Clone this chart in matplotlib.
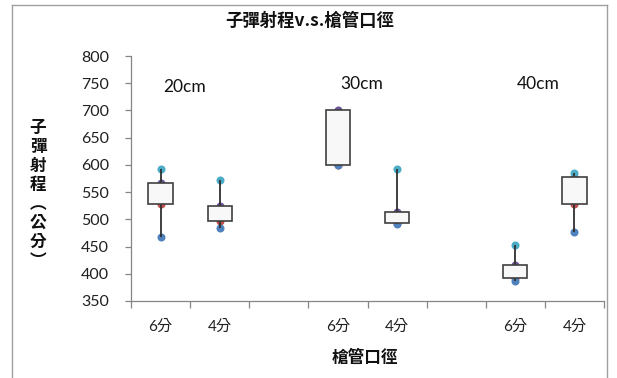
import matplotlib
matplotlib.use("Agg")
import matplotlib.pyplot as plt
import matplotlib.transforms as mtrans
from matplotlib.patches import Rectangle
from matplotlib.lines import Line2D

categories = ["6分", "4分", "", "6分", "4分", "", "6分", "4分"]
group_labels = ["20cm", "30cm", "40cm"]
# values for the six occupied categories (positions 0,1,3,4,6,7)
data_pos = [0, 1, 3, 4, 6, 7]
blue = [468, 485, 600, 492, 387, 477]
red = [529, 497, 600, 494, 392, 528]
purple = [566, 524, 700, 514, 416, 578]
cyan = [592, 573, 650, 592, 453, 585]
yticks = [350, 400, 450, 500, 550, 600, 650, 700, 750, 800]

CJK = "Noto Sans CJK TC"
LAT = ["Lato", CJK]

fig = plt.figure(figsize=(6.17, 3.78), dpi=100)
W, H = 617, 378
L, R, T, B = 131, 604, 56, 301
ax = fig.add_axes([L / W, 1 - B / H, (R - L) / W, (B - T) / H])

n = len(categories)
ax.set_xlim(-0.5, n - 0.5)
ax.set_ylim(350, 800)

gray = "#868686"
for s in ["top", "right"]:
    ax.spines[s].set_visible(False)
for s in ["left", "bottom"]:
    ax.spines[s].set_color(gray)
    ax.spines[s].set_linewidth(0.9)

ax.set_yticks(yticks)
ax.set_yticklabels([str(v) for v in yticks], family=LAT, fontsize=11.5, color="#202020")
ax.tick_params(axis="y", length=4, width=0.9, color=gray, pad=12)

# category boundaries as ticks, labels at centers
ax.set_xticks([i - 0.5 for i in range(n + 1)])
ax.set_xticklabels([""] * (n + 1))
ax.tick_params(axis="x", length=5, width=0.9, color=gray)
off = mtrans.offset_copy(ax.transData, fig=fig, x=0, y=-19, units="dots")
for i, c in enumerate(categories):
    ax.text(i, 350, c, transform=off, ha="center", va="top",
            family=LAT, fontsize=11, color="#202020")

colors = {"blue": "#4F81BD", "red": "#C0504D", "purple": "#6F569B", "cyan": "#4BACC6"}
ms = 5.8
box_w = 0.41
for k, x in enumerate(data_pos):
    vals = [blue[k], red[k], purple[k], cyan[k]]
    lo, hi = min(vals), max(vals)
    ax.plot([x, x], [lo, hi], color="#303030", lw=1.3, zorder=4.5, solid_capstyle="butt")
    ax.plot(x, red[k], "o", color=colors["red"], ms=ms, mec="none", zorder=2)
    ax.plot(x, blue[k], "o", color=colors["blue"], ms=ms, mec="none", zorder=3)
    ax.plot(x, purple[k], "o", color=colors["purple"], ms=ms, mec="none", zorder=3.5)
    ax.plot(x, cyan[k], "o", color=colors["cyan"], ms=ms, mec="none", zorder=4)
    b0, b1 = sorted([red[k], purple[k]])
    ax.add_patch(Rectangle((x - box_w / 2, b0), box_w, b1 - b0, facecolor="#F8F8F8",
                           edgecolor="#404040", lw=1.2, zorder=5))

# group labels
for g, (lab, px, py) in enumerate(zip(group_labels, [185, 362, 538], [87, 84, 84])):
    fig.text(px / W, 1 - py / H, lab, ha="center", va="center", family=LAT, fontsize=12.5, color="#111111")

# title
fig.text(310 / W, 1 - 21 / H, "子彈射程v.s.槍管口徑", ha="center", va="center",
         family=[CJK], fontsize=12.5, fontweight="bold", color="#111111")
# x label
fig.text(365 / W, 1 - 358 / H, "槍管口徑", ha="center", va="center",
         family=[CJK], fontsize=12, fontweight="bold", color="#111111")
# y label stacked vertically
ylab = ["子", "彈", "射", "程", "︵", "公", "分", "︶"]
for i, ch in enumerate(ylab):
    fig.text(38 / W, 1 - (128 + i * 19) / H, ch, ha="center", va="center",
             family=[CJK], fontsize=12, fontweight="bold", color="#111111")

# chart border
bc = "#A0A0A0"
fig.add_artist(Line2D([12 / W, 12 / W], [0, 1 - 5 / H], color=bc, lw=1, transform=fig.transFigure))
fig.add_artist(Line2D([12 / W, 607 / W], [1 - 5 / H, 1 - 5 / H], color=bc, lw=1, transform=fig.transFigure))
fig.add_artist(Line2D([607 / W, 607 / W], [0, 1 - 5 / H], color=bc, lw=1, transform=fig.transFigure))

fig.savefig("out.png", dpi=100, facecolor="white")
